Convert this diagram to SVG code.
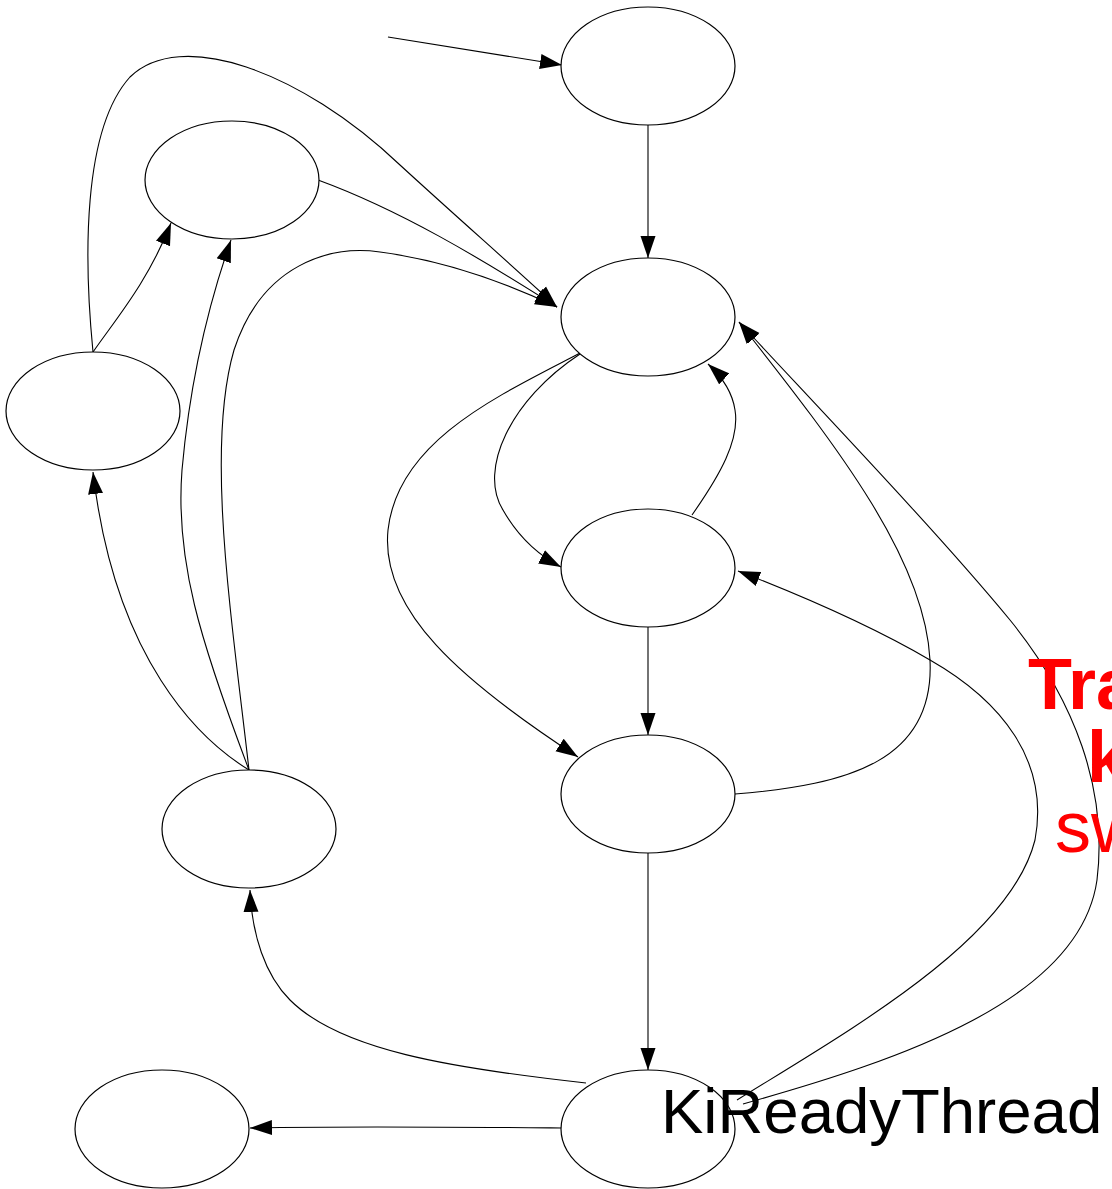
<svg xmlns="http://www.w3.org/2000/svg" width="1112" height="1189" viewBox="0 0 1112 1189">
  <style>
    .node ellipse { fill: #ffffff; stroke: #000000; stroke-width: 1.2; }
    .edges path { fill: none; stroke: #000000; stroke-width: 1.1; marker-end: url(#ah); }
    .lbl { font-family: "Liberation Sans", Arial, sans-serif; fill: #000000; }
    .note { font-family: "Liberation Sans", Arial, sans-serif; fill: #ff0000; }
  </style>
  <defs>
    <marker id="ah" markerUnits="userSpaceOnUse" markerWidth="23" markerHeight="16" refX="22" refY="8" orient="auto">
      <path d="M0,0.5 L22,8 L0,15.5 z" fill="#000000"/>
    </marker>
  </defs>
  <rect width="1112" height="1189" fill="#ffffff"/>

  <!-- connectors -->
  <g id="edges" class="edges">
    <path id="e-start-a" d="M388,37 L562,65"/>
    <path id="e-a-b" d="M648,125 L648,258"/>
    <path id="e-f-b" d="M318,180 C400,210 480,258 557,307"/>
    <path id="e-g-b" d="M93,352 C84,260 82,130 130,77 C180,28 300,70 400,165 C460,220 515,268 557,307"/>
    <path id="e-g-f" d="M93,352 C115,320 148,282 171,223"/>
    <path id="e-h-f" d="M249,770 C200,640 175,560 182,470 C190,380 210,300 231,240"/>
    <path id="e-h-b" d="M249,770 C232,620 205,450 234,350 C262,264 330,245 380,252 C440,260 500,280 557,307"/>
    <path id="e-h-g" d="M249,770 C200,740 115,660 93,472"/>
    <path id="e-b-c" d="M580,354 C510,400 478,470 503,510 C520,540 540,556 561,567"/>
    <path id="e-c-b" d="M692,515 C720,475 740,440 735,410 C732,390 720,375 708,364"/>
    <path id="e-b-d" d="M582,352 C500,395 398,440 388,530 C380,610 460,680 578,757"/>
    <path id="e-c-d" d="M648,627 L648,735"/>
    <path id="e-d-b" d="M735,794 C850,785 935,760 930,660 C925,560 840,450 739,322"/>
    <path id="e-e-b" d="M743,1104 C900,1060 1080,1000 1097,880 C1108,790 1075,700 1010,620 C940,535 830,420 739,322"/>
    <path id="e-e-c" d="M737,1100 C850,1030 1010,940 1035,840 C1050,760 1000,700 930,660 C870,625 800,595 738,571"/>
    <path id="e-d-e" d="M648,853 L648,1070"/>
    <path id="e-e-h" d="M586,1083 C450,1068 340,1050 290,1000 C265,975 252,935 250,890"/>
    <path id="e-e-i" d="M562,1128 C450,1127 350,1126 250,1128"/>
  </g>

  <!-- nodes -->
  <g id="node-a" class="node"><ellipse cx="648" cy="66" rx="87" ry="59"/></g>
  <g id="node-b" class="node"><ellipse cx="648" cy="317" rx="87" ry="59"/></g>
  <g id="node-c" class="node"><ellipse cx="648" cy="568" rx="87" ry="59"/></g>
  <g id="node-d" class="node"><ellipse cx="648" cy="794" rx="87" ry="59"/></g>
  <g id="node-e" class="node"><ellipse cx="648" cy="1129" rx="87" ry="59"/></g>
  <g id="node-f" class="node"><ellipse cx="232" cy="180" rx="87" ry="59"/></g>
  <g id="node-g" class="node"><ellipse cx="93" cy="411" rx="87" ry="59"/></g>
  <g id="node-h" class="node"><ellipse cx="249" cy="829" rx="87" ry="59"/></g>
  <g id="node-i" class="node"><ellipse cx="162" cy="1129" rx="87" ry="59"/></g>

  <!-- labels -->
  <text class="lbl" x="661" y="1133" font-size="63.5">KiReadyThread</text>
  <text class="note" x="1028" y="709" font-size="72" font-weight="bold">Tra</text>
  <text class="note" x="1087" y="782" font-size="72" font-weight="bold">k</text>
  <text class="note" x="1055" y="852" font-size="72">sw</text>
</svg>
